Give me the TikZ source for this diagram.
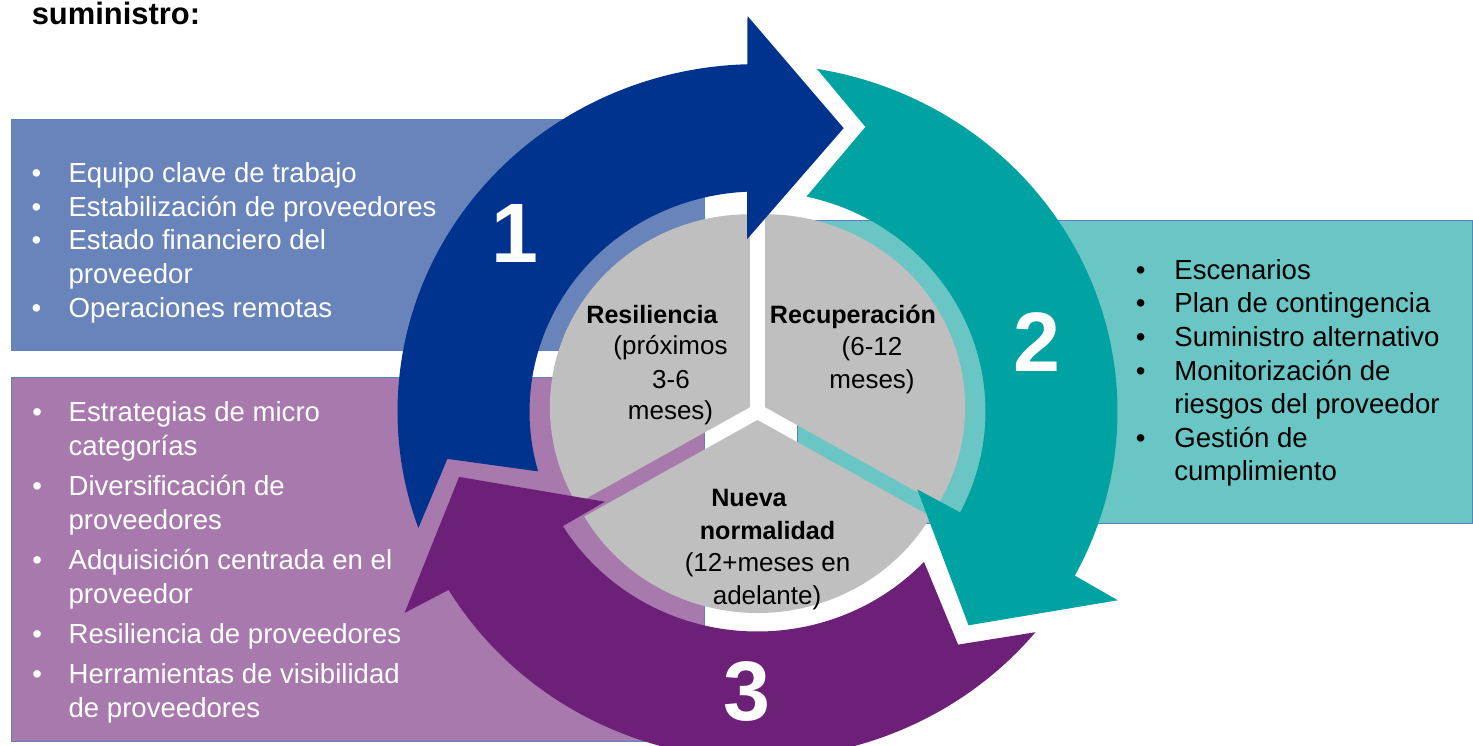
\documentclass[tikz,border=0pt]{standalone}
\usepackage{fontspec}
\setmainfont{Liberation Sans}
\definecolor{azulfase}{HTML}{00338D}
\definecolor{turqfase}{HTML}{00A3A1}
\definecolor{moradofase}{HTML}{6D2077}
\definecolor{azulcaja}{HTML}{6884BA}
\definecolor{turqcaja}{HTML}{6AC6C4}
\definecolor{moradocaja}{HTML}{A779AC}
\definecolor{bordecaja}{HTML}{5B7FBF}
\definecolor{grisfase}{HTML}{BFBFBF}
\tikzset{
  caja/.style={draw=bordecaja, line width=0.5pt},
  sector/.style={fill=grisfase},
  punto/.style={anchor=base west, inner sep=0pt, font=\fontsize{15.7}{19}\selectfont},
  vineta/.style={anchor=base, inner sep=0pt, font=\fontsize{15.7}{19}\selectfont},
  fase/.style={anchor=base, inner sep=0pt, font=\fontsize{14.3}{17}\selectfont\bfseries},
  plazo/.style={anchor=base, inner sep=0pt, font=\fontsize{14.8}{17}\selectfont},
  numero/.style={inner sep=0pt, text=white, font=\fontsize{48}{48}\selectfont\bfseries}
}
\begin{document}
\begin{tikzpicture}[x=0.02cm, y=0.02cm]
	\useasboundingbox (0,0) rectangle (1473,746);
	\clip (0,0) rectangle (1473,746);
	\fill[white] (0,0) rectangle (1473,746);
	\node[anchor=base west, inner sep=0pt, font=\fontsize{17.6}{20}\selectfont\bfseries] (titulo) at (31.4,721) {suministro:};
	% cajas
	\filldraw[caja, fill=azulcaja] (11.7,396) rectangle (704,626.5);
	\filldraw[caja, fill=moradocaja] (11.7,4.3) rectangle (704,368.3);
	\filldraw[caja, fill=turqcaja] (797,223) rectangle (1472.5,526);
	% circulo
	\begin{scope}[shift={(757.5,334.5)}, yscale=0.965]
		\fill[sector, shift={(150:8.8)}] (0,0) -- (90:200) arc[start angle=90, end angle=210, radius=200] -- cycle;
		\fill[sector, shift={(30:8.8)}] (0,0) -- (-30:200) arc[start angle=-30, end angle=90, radius=200] -- cycle;
		\fill[sector, shift={(270:8.8)}] (0,0) -- (210:200) arc[start angle=210, end angle=330, radius=200] -- cycle;
		\fill[azulfase] (199.6:360) arc[start angle=199.6, end angle=91.6, radius=360]
			-- (91.4:410) -- (73.65:306) -- (93.3:179) -- (92.6:228)
			arc[start angle=92.6, end angle=195.8, radius=228] -- (189:314) -- cycle;
		\fill[turqfase] (80.5:360) arc[start angle=80.5, end angle=-28.2, radius=360]
			-- (-28.5:410) -- (-46.4:306) -- (-26.8:179) -- (-27.3:228)
			arc[start angle=-27.3, end angle=77.6, radius=228] -- (69.9:314) -- cycle;
		\fill[moradofase] (-39.45:360) arc[start angle=-39.45, end angle=-149.1, radius=360]
			-- (-149.4:410) -- (-167.2:306) -- (-148.5:179) -- (-148.6:228)
			arc[start angle=-148.6, end angle=-43.1, radius=228] -- (-50.3:314) -- cycle;
	\end{scope}
	\node[numero] (n1) at (515,512) {1};
	\node[numero] (n2) at (1037,403.5) {2};
	\node[numero] (n3) at (747,54.6) {3};
	% textos del circulo
	\node[fase] (res) at (652,422.7) {Resiliencia};
	\node[plazo] (res1) at (670.5,391) {(próximos};
	\node[plazo] (res2) at (671,357.7) {3-6};
	\node[plazo] (res3) at (670.5,326.7) {meses)};
	\node[fase] (rec) at (853,422) {Recuperación};
	\node[plazo] (rec1) at (872,390) {(6-12};
	\node[plazo] (rec2) at (872,357.7) {meses)};
	\node[fase] (nue) at (749,239.3) {Nueva};
	\node[fase] (nue1) at (767.5,206.5) {normalidad};
	\node[plazo] (nue2) at (767.5,174) {(12+meses en};
	\node[plazo] (nue3) at (767,141.5) {adelante)};
	% lista azul
	\node[punto, text=white] (a1) at (68.2,563.3) {Equipo clave de trabajo};
	\node[punto, text=white] (a2) at (68.2,529.7) {Estabilización de proveedores};
	\node[punto, text=white] (a3) at (68.2,496.1) {Estado financiero del};
	\node[punto, text=white] (a3b) at (68.2,462.5) {proveedor};
	\node[punto, text=white] (a4) at (68.2,428.9) {Operaciones remotas};
	\foreach \y [count=\i] in {563.3,529.7,496.1,428.9}
		\node[vineta, text=white] (va\i) at (36.4,\y) {\textbullet};
	% lista morada
	\node[punto, text=white] (m1) at (68.3,324) {Estrategias de micro};
	\node[punto, text=white] (m1b) at (68.3,290) {categorías};
	\node[punto, text=white] (m2) at (68.3,250.5) {Diversificación de};
	\node[punto, text=white] (m2b) at (68.3,216.5) {proveedores};
	\node[punto, text=white] (m3) at (68.3,176.5) {Adquisición centrada en el};
	\node[punto, text=white] (m3b) at (68.3,142.5) {proveedor};
	\node[punto, text=white] (m4) at (68.3,102.5) {Resiliencia de proveedores};
	\node[punto, text=white] (m5) at (68.3,62.5) {Herramientas de visibilidad};
	\node[punto, text=white] (m5b) at (68.3,28.5) {de proveedores};
	\foreach \y [count=\i] in {324,250.5,176.5,102.5,62.5}
		\node[vineta, text=white] (vm\i) at (37.3,\y) {\textbullet};
	% lista turquesa
	\node[punto] (t1) at (1174,466.7) {Escenarios};
	\node[punto] (t2) at (1174,433) {Plan de contingencia};
	\node[punto] (t3) at (1174,399.4) {Suministro alternativo};
	\node[punto] (t4) at (1174,365.8) {Monitorización de};
	\node[punto] (t4b) at (1174,332.2) {riesgos del proveedor};
	\node[punto] (t5) at (1174,298.6) {Gestión de};
	\node[punto] (t5b) at (1174,265) {cumplimiento};
	\foreach \y [count=\i] in {466.7,433,399.4,365.8,298.6}
		\node[vineta] (vt\i) at (1140.7,\y) {\textbullet};
\end{tikzpicture}
\end{document}
